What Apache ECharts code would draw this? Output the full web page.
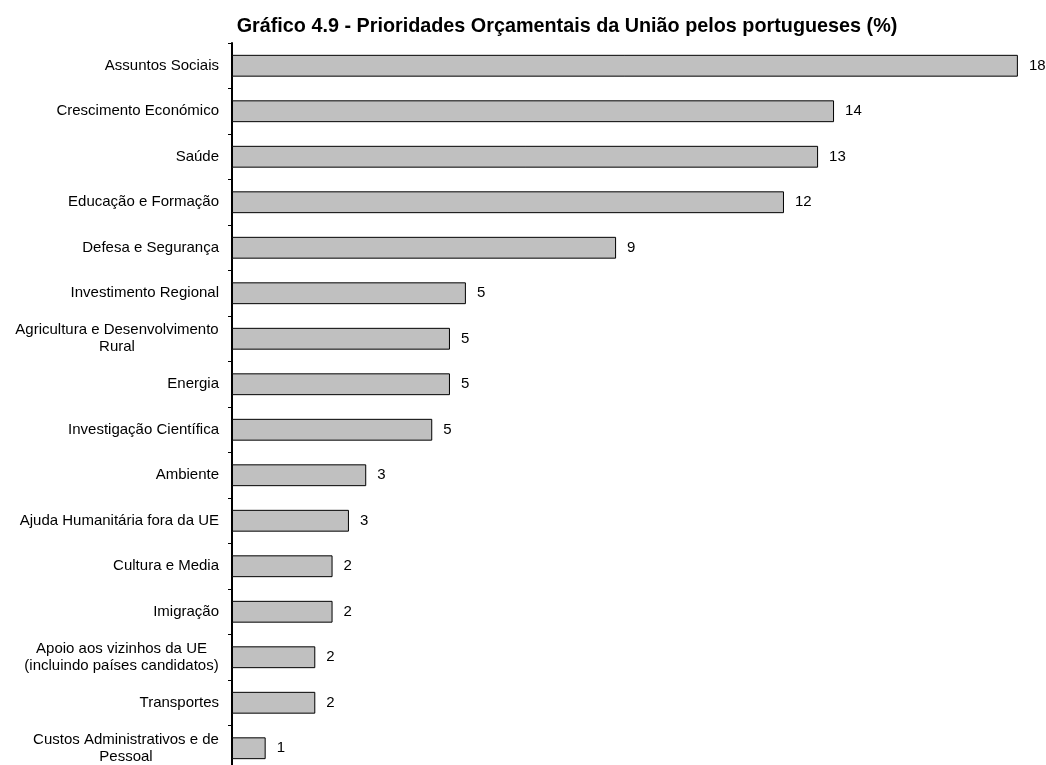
<!DOCTYPE html>
<html>
<head>
<meta charset="utf-8">
<script src="https://cdn.jsdelivr.net/npm/echarts@6/dist/echarts.min.js"></script>
<style>
html,body{margin:0;padding:0;background:#fff;}
#c{width:1046px;height:765px;}
</style>
</head>
<body>
<div id="c"></div>
<script>
const titleText = 'Gráfico 4.9 - Prioridades Orçamentais da União pelos portugueses (%)';
const categories = [
  'Assuntos Sociais',
  'Crescimento Económico',
  'Saúde',
  'Educação e Formação',
  'Defesa e Segurança',
  'Investimento Regional',
  'Agricultura e Desenvolvimento\nRural',
  'Energia',
  'Investigação Científica',
  'Ambiente',
  'Ajuda Humanitária fora da UE',
  'Cultura e Media',
  'Imigração',
  'Apoio aos vizinhos da UE\n(incluindo países candidatos)',
  'Transportes',
  'Custos Administrativos e de\nPessoal'
];
const values = [17.74, 13.59, 13.23, 12.46, 8.67, 5.28, 4.92, 4.92, 4.52, 3.03, 2.64, 2.27, 2.27, 1.88, 1.88, 0.76];

const FONT_FAMILY = 'Liberation Sans, Arial, sans-serif';
const LABEL_SIZE = 15;

const ctx = document.createElement('canvas').getContext('2d');
ctx.font = LABEL_SIZE + 'px ' + FONT_FAMILY;
const rich = {};
const richKey = {};
categories.forEach((c, i) => {
  if (c.indexOf('\n') >= 0) {
    const w = Math.max(...c.split('\n').map(l => ctx.measureText(l).width));
    const k = 'm' + i;
    rich[k] = {width: Math.ceil(w), align: 'center', fontSize: LABEL_SIZE, fontFamily: FONT_FAMILY, color: '#000', lineHeight: 17};
    richKey[c] = k;
  }
});

const chart = echarts.init(document.getElementById('c'), null, {renderer: 'canvas'});
chart.setOption({
  animation: false,
  backgroundColor: '#fff',
  title: {
    text: titleText,
    left: 562,
    textAlign: 'center',
    top: 12,
    textStyle: {fontFamily: FONT_FAMILY, fontSize: 19.8, fontWeight: 'bold', color: '#000'}
  },
  grid: {left: 232, top: 43, width: 886, height: 728, containLabel: false, outerBoundsMode: 'none'},
  xAxis: {
    type: 'value', min: 0, max: 20, show: false
  },
  yAxis: {
    type: 'category',
    data: categories,
    inverse: true,
    axisLine: {show: true, lineStyle: {color: '#000', width: 2}},
    axisTick: {show: true, length: 4, lineStyle: {color: '#000', width: 1}},
    axisLabel: {
      margin: 13,
      fontFamily: FONT_FAMILY,
      fontSize: LABEL_SIZE,
      color: '#000',
      lineHeight: 17,
      rich: rich,
      formatter: function (v) {
        const k = richKey[v];
        if (!k) return v;
        return v.split('\n').map(l => '{' + k + '|' + l + '}').join('\n');
      }
    },
    splitLine: {show: false}
  },
  series: [{
    type: 'bar',
    data: values,
    barWidth: '48%',
    itemStyle: {color: '#c0c0c0', borderColor: '#000', borderWidth: 1},
    label: {
      show: true,
      position: 'right',
      distance: 11,
      fontFamily: FONT_FAMILY,
      fontSize: LABEL_SIZE,
      color: '#000',
      formatter: p => String(Math.round(p.value))
    }
  }]
});
</script>
</body>
</html>
